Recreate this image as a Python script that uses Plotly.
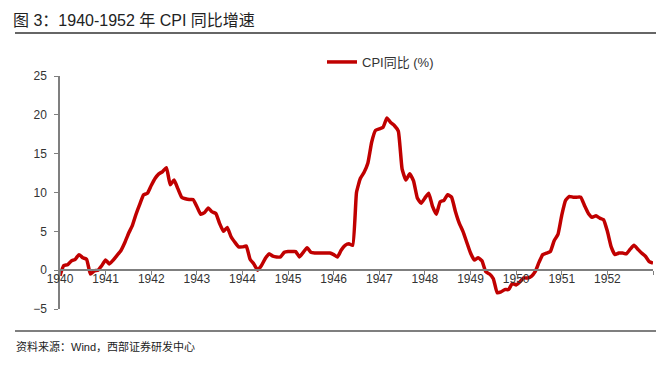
import plotly.graph_objects as go

# Monthly CPI YoY (%) from Jan 1940 to Jan 1953
start_year = 1940
cpi_yoy = [
    -0.7, 0.6, 0.7, 1.2, 1.4, 2.0, 1.6, 1.4, -0.5, -0.1, 0.0, 0.6,   # 1940
    1.3, 0.8, 1.3, 1.9, 2.5, 3.5, 4.7, 5.7, 7.2, 8.5, 9.7, 9.9,      # 1941
    10.9, 11.8, 12.4, 12.7, 13.2, 11.0, 11.6, 10.5, 9.4, 9.2, 9.1, 9.1,  # 1942
    8.2, 7.2, 7.4, 8.0, 7.5, 7.3, 6.0, 5.0, 5.5, 4.3, 3.6, 3.0,      # 1943
    3.0, 3.1, 1.4, 0.8, 0.0, 0.6, 1.5, 2.1, 1.8, 1.7, 1.7, 2.3,      # 1944
    2.4, 2.4, 2.4, 1.7, 2.3, 2.9, 2.3, 2.2, 2.2, 2.2, 2.2, 2.2,      # 1945
    2.0, 1.7, 2.6, 3.2, 3.4, 3.2, 10.0, 11.8, 12.6, 13.8, 16.5, 18.0,  # 1946
    18.2, 18.4, 19.6, 19.0, 18.6, 17.9, 13.0, 11.6, 12.4, 11.5, 9.3, 8.6,  # 1947
    9.3, 9.9, 8.2, 7.2, 8.8, 9.0, 9.7, 9.4, 7.6, 6.1, 5.0, 3.6,      # 1948
    2.2, 1.3, 1.6, 1.2, -0.2, -0.5, -1.1, -2.9, -2.8, -2.5, -2.5, -1.7,  # 1949
    -1.9, -1.5, -1.0, -1.0, -0.8, -0.2, 1.0, 2.0, 2.2, 2.4, 3.8, 4.6,  # 1950
    7.1, 9.0, 9.5, 9.4, 9.4, 9.4, 8.3, 7.3, 6.8, 7.0, 6.7, 6.5,      # 1951
    5.0, 3.0, 2.0, 2.2, 2.2, 2.1, 2.7, 3.2, 2.7, 2.2, 1.8, 1.1,      # 1952
    0.9,                                                             # 1953
]
x_years = [start_year + i / 12 for i in range(len(cpi_yoy))]

year_ticks = list(range(1940, 1954))
year_labels = [str(y) for y in range(1940, 1953)] + [""]
y_ticks = [-5, 0, 5, 10, 15, 20, 25]

title_text = "图 3：1940-1952 年 CPI 同比增速"
source_text = "资料来源：Wind，西部证券研发中心"
series_name = "CPI同比 (%)"

FONT = "Liberation Sans, Arial, Noto Sans CJK SC"

fig = go.Figure()
fig.add_trace(go.Scatter(
    x=x_years, y=cpi_yoy, mode="lines", name=series_name,
    line=dict(color="#C00000", width=3.5, shape="spline", smoothing=0.4),
))

W, H = 661, 367
L, R, T, B = 60, 8, 76, 58
pw = W - L - R
ph = H - T - B

def px_x(px):
    return (px - L) / pw

def px_y(py):
    return (H - B - py) / ph

fig.update_layout(
    width=W, height=H,
    margin=dict(l=L, r=R, t=T, b=B, autoexpand=False),
    paper_bgcolor="white", plot_bgcolor="white",
    font=dict(family=FONT, size=12, color="#333333"),
    showlegend=True,
    legend=dict(
        x=px_x(322), y=px_y(62), xanchor="left", yanchor="middle",
        orientation="h", bgcolor="rgba(0,0,0,0)",
        font=dict(size=13, color="#333333", family=FONT),
        itemwidth=30,
    ),
    xaxis=dict(
        range=[1940, 1953], tickmode="array", tickvals=year_ticks, ticktext=year_labels,
        anchor="free", position=5 / 30,
        showline=True, linecolor="#7f7f7f", linewidth=1.5,
        ticks="outside", ticklen=4, tickcolor="#7f7f7f",
        showgrid=False, zeroline=False, automargin=False,
        ticklabelstandoff=-6,
        tickfont=dict(size=12, color="#333333"),
    ),
    yaxis=dict(
        range=[-5, 25], tickvals=y_ticks,
        showline=True, linecolor="#7f7f7f", linewidth=1.5,
        ticks="outside", ticklen=4, tickcolor="#7f7f7f",
        showgrid=False, zeroline=False, automargin=False,
        ticklabelstandoff=5,
        tickfont=dict(size=12, color="#333333"),
    ),
    annotations=[
        dict(text=title_text, x=px_x(11), y=px_y(20), xref="paper", yref="paper",
             xanchor="left", yanchor="middle", showarrow=False,
             font=dict(size=16, color="#222222", family=FONT)),
        dict(text=source_text, x=px_x(14), y=px_y(346), xref="paper", yref="paper",
             xanchor="left", yanchor="middle", showarrow=False,
             font=dict(size=11, color="#222222", family=FONT)),
    ],
    shapes=[
        dict(type="line", xref="paper", yref="paper", x0=px_x(15), x1=px_x(656),
             y0=px_y(33), y1=px_y(33), line=dict(color="#333333", width=1.5)),
        dict(type="line", xref="paper", yref="paper", x0=px_x(15), x1=px_x(656),
             y0=px_y(331), y1=px_y(331), line=dict(color="#7f7f7f", width=2)),
    ],
)

fig.write_html(
    "out.html",
    config={"displayModeBar": False},
    post_script="document.body.style.margin='0px';",
)
